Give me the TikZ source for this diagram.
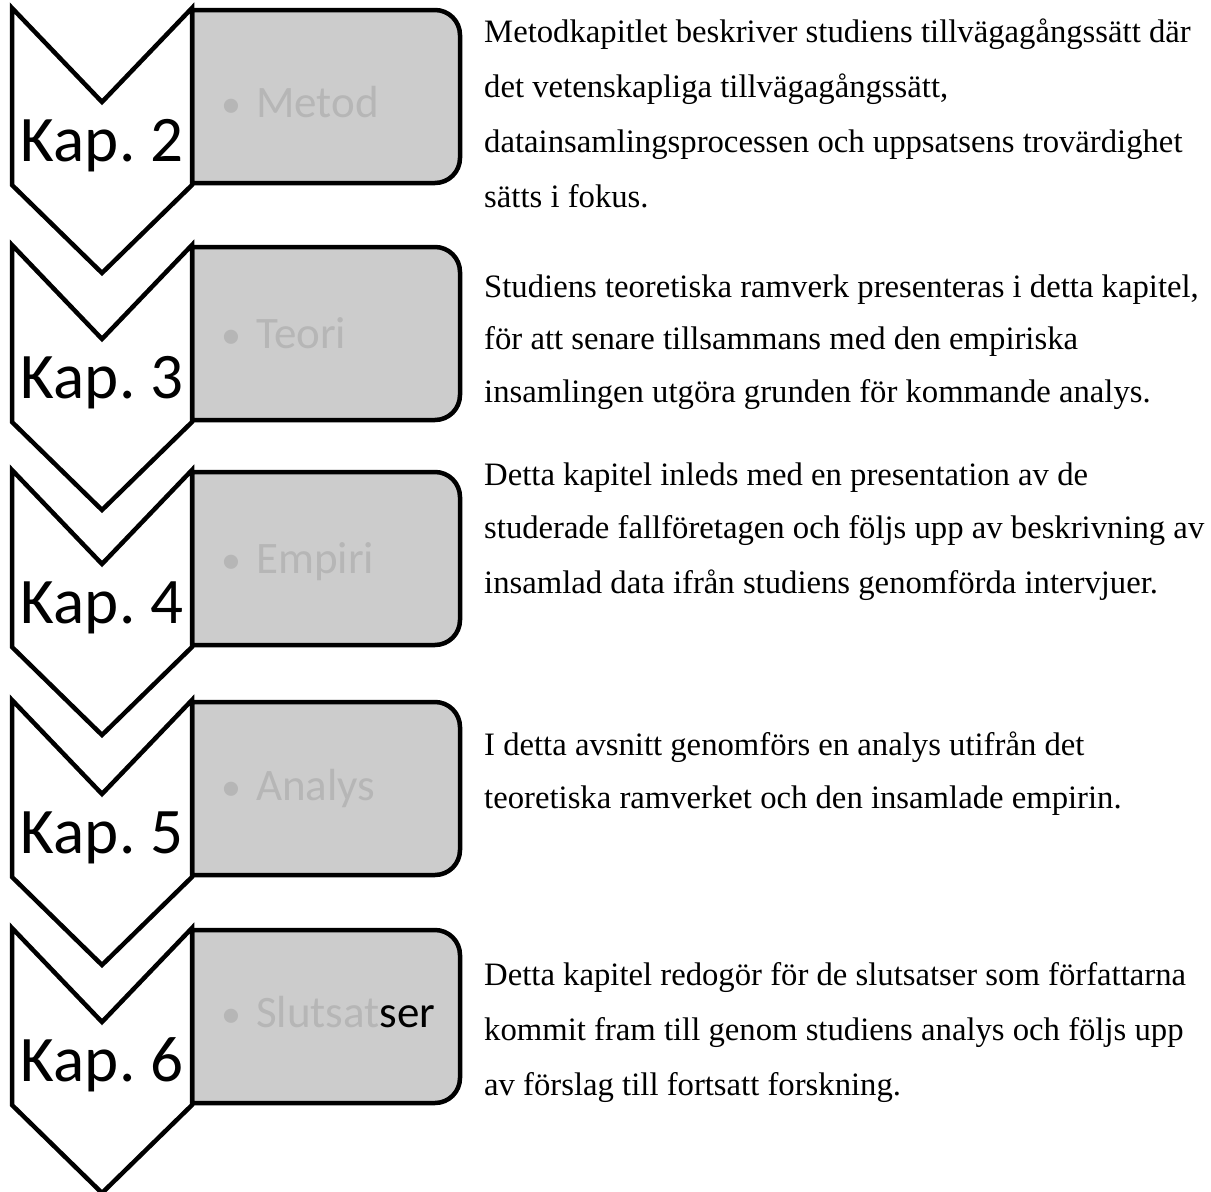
\documentclass[tikz,border=0pt]{standalone}
\usepackage{fontspec}
\setmainfont{Liberation Serif}
\newfontfamily\calfont{Carlito}
\definecolor{boxgray}{RGB}{204,204,204}
\definecolor{faint}{RGB}{182,182,182}
\frenchspacing
\begin{document}
\begin{tikzpicture}[x=1pt,y=-1pt,
  chev/.style={draw=black,fill=white,line width=4.5pt,line join=miter},
  tab/.style={draw=black,fill=boxgray,line width=4.5pt},
  kap/.style={font=\calfont\fontsize{65}{78}\selectfont,anchor=base,inner sep=0pt},
  lbl/.style={font=\calfont\fontsize{45}{54}\selectfont,text=faint,anchor=base west,inner sep=0pt},
  bul/.style={font=\calfont\fontsize{40}{54}\selectfont,text=faint,anchor=base,inner sep=0pt},
  desc/.style={font=\fontsize{32.7}{40}\selectfont,anchor=base west,inner sep=0pt}]
\useasboundingbox (0,0) rectangle (1211,1192);
\foreach \t/\n/\lab/\lb [count=\i] in {8/2/Metod/117, 245/3/Teori/348, 470/4/Empiri/573, 700/5/Analys/800, 928/6/{Slutsat\textcolor{black}{ser}}/1027}{
  \draw[tab] (192,\t+2) -- (435,\t+2) arc[start angle=-90,end angle=0,radius=25]
     -- (460,\t+150) arc[start angle=0,end angle=90,radius=25] -- (192,\t+175) -- cycle;
  \draw[chev] (12,\t) -- (102,\t+94) -- (192,\t) -- (192,\t+177) -- (102,\t+265) -- (12,\t+177) -- cycle;
  \node[kap] (kap\i) at (102,\t+153) {Kap.\ \n};
  \node[bul] (bul\i) at (231,\lb) {\textbullet};
  \node[lbl] (lab\i) at (256,\lb) {\lab};
}
\foreach \y/\txt [count=\j] in {
  42/{Metodkapitlet beskriver studiens tillvägagångssätt där},
  97/{det vetenskapliga tillvägagångssätt,},
  152/{datainsamlingsprocessen och uppsatsens trovärdighet},
  207/{sätts i fokus.},
  297/{Studiens teoretiska ramverk presenteras i detta kapitel,},
  349/{för att senare tillsammans med den empiriska},
  402/{insamlingen utgöra grunden för kommande analys.},
  485/{Detta kapitel inleds med en presentation av de},
  538/{studerade fallföretagen och följs upp av beskrivning av},
  593/{insamlad data ifrån studiens genomförda intervjuer.},
  755/{I detta avsnitt genomförs en analys utifrån det},
  808/{teoretiska ramverket och den insamlade empirin.},
  985/{Detta kapitel redogör för de slutsatser som författarna},
  1040/{kommit fram till genom studiens analys och följs upp},
  1095/{av förslag till fortsatt forskning.}}{
  \node[desc] (line\j) at (484,\y) {\txt};
}
\end{tikzpicture}
\end{document}
